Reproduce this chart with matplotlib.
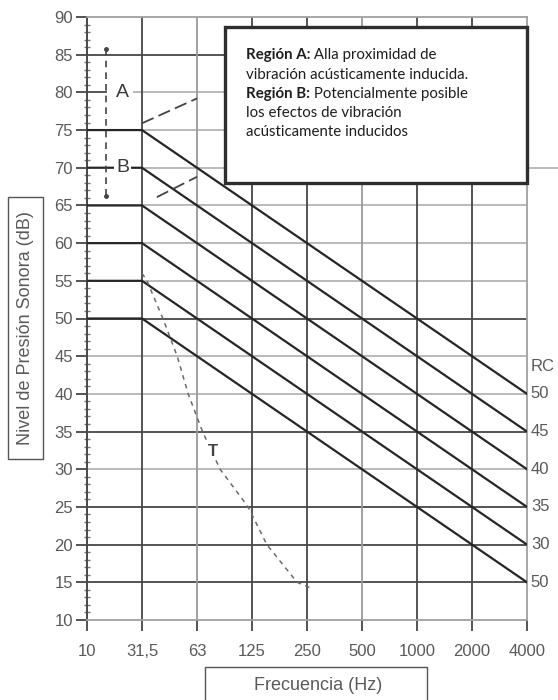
import matplotlib.pyplot as plt
from matplotlib.patches import Rectangle

# ---------------- data ----------------
freq_labels = ["10", "31,5", "63", "125", "250", "500", "1000", "2000", "4000"]
levels = [15, 20, 25, 30, 35, 40, 45, 50, 55, 60, 65, 70, 75, 80, 85]

rc_labels = ["50", "45", "40", "35", "30", "50"]
rc_start = [75, 70, 65, 60, 55, 50]      # nivel a 10 - 31,5 Hz
rc_end = [40, 35, 30, 25, 20, 15]        # nivel a 4000 Hz

# curva T (posicion en bandas de octava, dB)
t_pos = [1.0, 1.09, 1.38, 1.64, 1.84, 2.1, 2.42, 2.93, 3.27, 3.82, 4.05]
t_db = [56, 55, 50, 45, 40, 35, 30, 25, 20, 15, 14.3]

# limites de las regiones A y B
ab_pos = [0.35, 0.35]
ab_db = [85.7, 66.2]
a_line_pos = [1.0, 2.0]
a_line_db = [75.9, 79.2]
b_line_pos = [1.27, 2.0]
b_line_db = [66.1, 68.8]

box_lines = [
    ("Región A:", " Alla proximidad de"),
    ("", "vibración acústicamente inducida."),
    ("Región B:", " Potencialmente posible"),
    ("", "los efectos de vibración"),
    ("", "acústicamente inducidos"),
]

# ---------------- figure ----------------
W, H = 558, 700
fig = plt.figure(figsize=(5.58, 7.0), dpi=100)
ax = fig.add_axes([87 / W, 1 - 620 / H, 440 / W, 603 / H])
ax.set_xlim(0, 8)
ax.set_ylim(10, 90)

dark = "#474747"
gray = "#b4b4b4"
tick_col = "#5a5a5a"

# grid
dark_h = [15, 20, 25, 35, 50, 85]
for lv in levels:
    if lv in (70, 80):
        continue
    ax.axhline(lv, color=dark if lv in dark_h else gray, lw=1.3, zorder=1)
ax.plot([0.85, 8.56], [70, 70], color=gray, lw=1.3, zorder=1, clip_on=False)
ax.plot([0.85, 8], [80, 80], color=gray, lw=1.3, zorder=1)
ax.plot([0, 0.35], [80, 80], color=dark, lw=1.3, zorder=2)

dark_v = [1, 3, 4, 6, 7]
for i in range(1, 8):
    ax.axvline(i, color=dark if i in dark_v else "#9a9a9a", lw=1.3, zorder=1)

# lineas RC
for s, e, lab in zip(rc_start, rc_end, rc_labels):
    ax.plot([0, 1, 8], [s, s, e], color="#262626", lw=1.6, zorder=3)
    ax.text(8.07, e, lab, ha="left", va="center", fontsize=12,
            color=tick_col, family="Liberation Sans", clip_on=False)
ax.text(8.07, 43.6, "RC", ha="left", va="center", fontsize=12,
        color=tick_col, family="Liberation Sans", clip_on=False)

# curva T
ax.plot(t_pos, t_db, color="#6a6a6a", lw=1.1, ls=(0, (3, 3)), zorder=3)
ax.text(2.29, 32.4, "T", fontsize=12, color="#444444", fontweight="bold",
        ha="center", va="center", family="Liberation Sans", zorder=4,
        bbox=dict(facecolor="white", edgecolor="none", pad=0.5))

# regiones A / B
ax.plot(ab_pos, ab_db, color="#444444", lw=1.2, ls=(0, (4, 3)), zorder=3)
ax.plot(ab_pos, ab_db, ls="none", marker="o", ms=2.5, color="#444444", zorder=3)
ax.plot(a_line_pos, a_line_db, color="#444444", lw=1.3, ls=(0, (7, 3)), zorder=3)
ax.plot(b_line_pos, b_line_db, color="#444444", lw=1.3, ls=(0, (7, 3)), zorder=3)
for lab, lv in (("A", 80), ("B", 70)):
    ax.text(0.65, lv, lab, fontsize=14, color="#3a3a3a", ha="center",
            va="center", family="Liberation Sans", zorder=5,
            bbox=dict(facecolor="white", edgecolor="none", pad=1.5))

# ejes
ax.set_xticks(range(9))
ax.set_xticklabels(freq_labels)
ax.set_yticks(range(10, 91, 5))
ax.set_yticks(range(10, 91, 1), minor=True)
ax.tick_params(axis="both", which="major", labelsize=12, labelcolor=tick_col,
               color=dark, width=1.3)
ax.tick_params(axis="x", length=8, pad=9)
ax.tick_params(axis="y", which="major", length=8, pad=2)
ax.tick_params(axis="y", which="minor", length=4, direction="inout",
               color="#777777", width=1)
for lab in ax.get_xticklabels() + ax.get_yticklabels():
    lab.set_family("Liberation Sans")
ax.spines["left"].set_color(dark)
ax.spines["left"].set_linewidth(1.4)
for sp in ("top", "bottom", "right"):
    ax.spines[sp].set_color("#a0a0a0")
    ax.spines[sp].set_linewidth(1.3)

# recuadro con texto
ax.add_patch(Rectangle((0.3136, 0.7247), 0.6864, 0.2587, transform=ax.transAxes,
                       facecolor="white", edgecolor="#2e2e2e", lw=2.4,
                       zorder=10, clip_on=False))
bottoms = [62, 82, 101, 120, 139]
for (bold, normal), b in zip(box_lines, bottoms):
    y = (620 - b) / 603
    x = (246 - 87) / 440
    if bold:
        t = ax.text(x, y, bold, transform=ax.transAxes, fontsize=10.8,
                    fontweight="bold", family="Lato", color="#1e1e1e",
                    ha="left", va="bottom", zorder=11)
        ax.annotate(normal, xy=(1, 0), xycoords=t, fontsize=10.8,
                    family="Lato", color="#1e1e1e", ha="left", va="bottom",
                    zorder=11)
    else:
        ax.text(x, y, normal, transform=ax.transAxes, fontsize=10.8,
                family="Lato", color="#1e1e1e", ha="left", va="bottom",
                zorder=11)

# titulos de ejes en recuadros
fig.add_artist(Rectangle((8 / W, 1 - 459 / H), 35 / W, 262 / H,
                         transform=fig.transFigure, facecolor="none",
                         edgecolor="#555555", lw=1.0))
fig.text(26 / W, 1 - 328 / H, "Nivel de Presión Sonora (dB)", rotation=90,
         ha="center", va="center", fontsize=13, color=tick_col,
         family="Liberation Sans")
fig.add_artist(Rectangle((205 / W, 1 - 705 / H), 222 / W, 38 / H,
                         transform=fig.transFigure, facecolor="none",
                         edgecolor="#555555", lw=1.0))
fig.text(318 / W, 1 - 685 / H, "Frecuencia (Hz)", ha="center", va="center",
         fontsize=13, color=tick_col, family="Liberation Sans")

plt.savefig("out.png", dpi=100)
